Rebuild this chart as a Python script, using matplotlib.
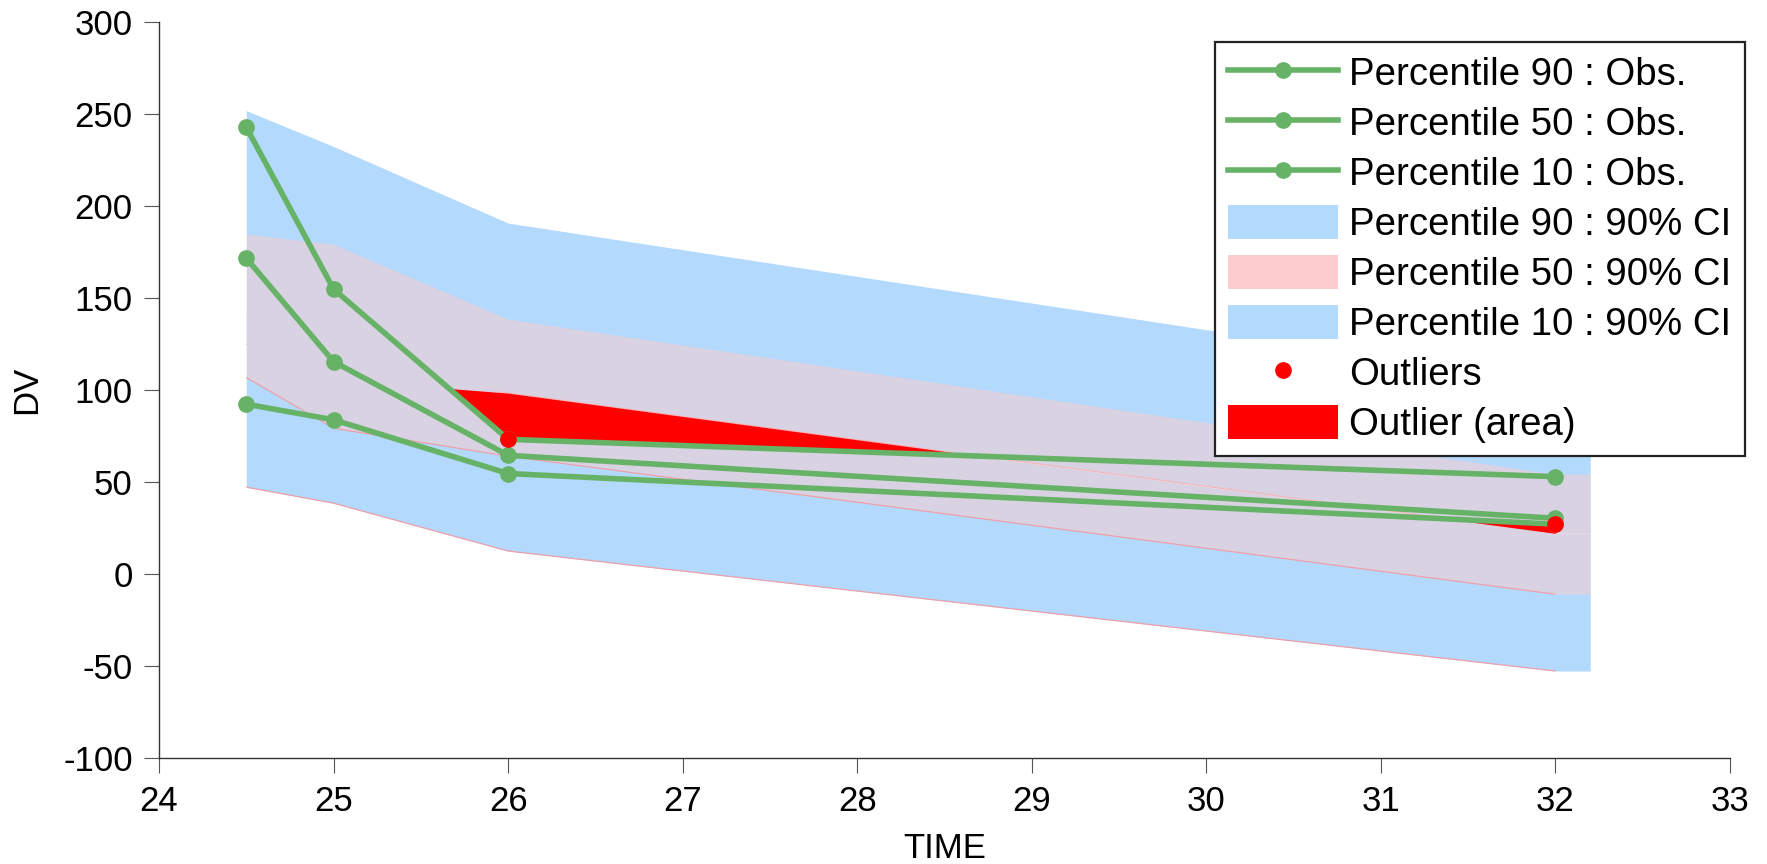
import numpy as np
import matplotlib
matplotlib.use("Agg")
import matplotlib.pyplot as plt
from matplotlib.lines import Line2D
from matplotlib.patches import Patch

plt.rcParams['font.family'] = ['Liberation Sans', 'DejaVu Sans']
plt.rcParams['axes.unicode_minus'] = False

# Bin times and the (slightly wider) extent of the prediction bands
time_bins = [24.5, 25, 26, 32]
band_time = [24.5, 25, 26, 32, 32.2]

# Observed percentiles
obs_p90 = [243, 155, 73.4, 53.1]
obs_p50 = [171.8, 115.6, 64.7, 30.5]
obs_p10 = [92.5, 84, 54.8, 27.3]

# 90% confidence intervals of the simulated percentiles
ci90_lo = [125, 106, 98.5, 22.5, 22.5]
ci90_hi = [252, 232.5, 190.9, 104, 104]
ci50_lo = [107, 79.4, 64.2, -10.8, -10.8]
ci50_hi = [185, 179.4, 138.7, 54.4, 54.4]
ci10_lo = [47.4, 38.7, 12.7, -52.5, -52.5]
ci10_hi = [140, 115, 98.2, 22.3, 22.3]

x_ticks = [24, 25, 26, 27, 28, 29, 30, 31, 32, 33]
y_ticks = [-100, -50, 0, 50, 100, 150, 200, 250, 300]

BLUE = '#b3d9fc'
PINK = '#fdcccc'
EDGE = '#eea0aa'
GREEN = '#66b266'
RED = '#ff0000'

fig = plt.figure(figsize=(17.67, 8.64), dpi=100)
ax = fig.add_axes([0.09, 0.1222, 0.889, 0.852])

n = len(time_bins)
edge_kw = dict(color=EDGE, lw=0.9, solid_capstyle='butt')
ax.fill_between(band_time, ci90_lo, ci90_hi, color=BLUE, lw=0, zorder=1)
ax.plot(time_bins, ci90_lo[:n], zorder=1.1, **edge_kw)
ax.fill_between(band_time, ci10_lo, ci10_hi, color=BLUE, lw=0, zorder=1.2)
ax.plot(time_bins, ci10_lo[:n], zorder=1.3, **edge_kw)
ax.fill_between(band_time, ci50_lo, ci50_hi, color=PINK, alpha=0.5, lw=0, zorder=1.4)
ax.plot(time_bins, ci50_lo[:n], zorder=1.5, **edge_kw)

t = np.array(time_bins, dtype=float)
out_t, out_v = [], []
for obs, lo, hi in [(obs_p90, ci90_lo, ci90_hi),
                    (obs_p50, ci50_lo, ci50_hi),
                    (obs_p10, ci10_lo, ci10_hi)]:
    o = np.array(obs, dtype=float)
    l = np.array(lo[:n], dtype=float)
    h = np.array(hi[:n], dtype=float)
    ax.fill_between(t, o, l, where=o < l, interpolate=True, color=RED, lw=0, zorder=2)
    ax.fill_between(t, o, h, where=o > h, interpolate=True, color=RED, lw=0, zorder=2)
    mask = (o < l) | (o > h)
    out_t.extend(t[mask])
    out_v.extend(o[mask])

for obs in (obs_p90, obs_p50, obs_p10):
    ax.plot(time_bins, obs, color=GREEN, lw=4, marker='o', ms=11,
            solid_capstyle='round', zorder=3)
ax.plot(out_t, out_v, ls='none', marker='o', ms=11, color=RED, zorder=4)

ax.set_xlim(24, 33)
ax.set_ylim(-100, 300)
ax.set_xticks(x_ticks)
ax.set_yticks(y_ticks)
ax.tick_params(direction='out', length=11, width=0.8, color='#555555',
               labelsize=25, pad=8)
for s in ('top', 'right'):
    ax.spines[s].set_visible(False)
for s in ('left', 'bottom'):
    ax.spines[s].set_color('#333333')
    ax.spines[s].set_linewidth(1.0)

ax.set_xlabel('TIME', fontsize=25, labelpad=10)
ax.set_ylabel('DV', fontsize=25, labelpad=14)

handles = [
    Line2D([], [], color=GREEN, lw=4, marker='o', ms=11),
    Line2D([], [], color=GREEN, lw=4, marker='o', ms=11),
    Line2D([], [], color=GREEN, lw=4, marker='o', ms=11),
    Patch(facecolor=BLUE, edgecolor='none'),
    Patch(facecolor=PINK, edgecolor='none'),
    Patch(facecolor=BLUE, edgecolor='none'),
    Line2D([], [], ls='none', color=RED, marker='o', ms=11),
    Patch(facecolor=RED, edgecolor='none'),
]
labels = ['Percentile 90 : Obs.', 'Percentile 50 : Obs.', 'Percentile 10 : Obs.',
          'Percentile 90 : 90% CI', 'Percentile 50 : 90% CI', 'Percentile 10 : 90% CI',
          'Outliers', 'Outlier (area)']
leg = ax.legend(handles, labels, loc='upper right',
                bbox_to_anchor=(0.9875, 0.9517), bbox_transform=fig.transFigure,
                borderaxespad=0, fontsize=27.6, frameon=True, fancybox=False,
                framealpha=1, edgecolor='#222222', handlelength=2.85,
                handleheight=0.98, handletextpad=0.3, labelspacing=0.31,
                borderpad=0.35)
leg.get_frame().set_linewidth(1.6)
leg.set_zorder(10)

fig.savefig('out.png', dpi=100)
